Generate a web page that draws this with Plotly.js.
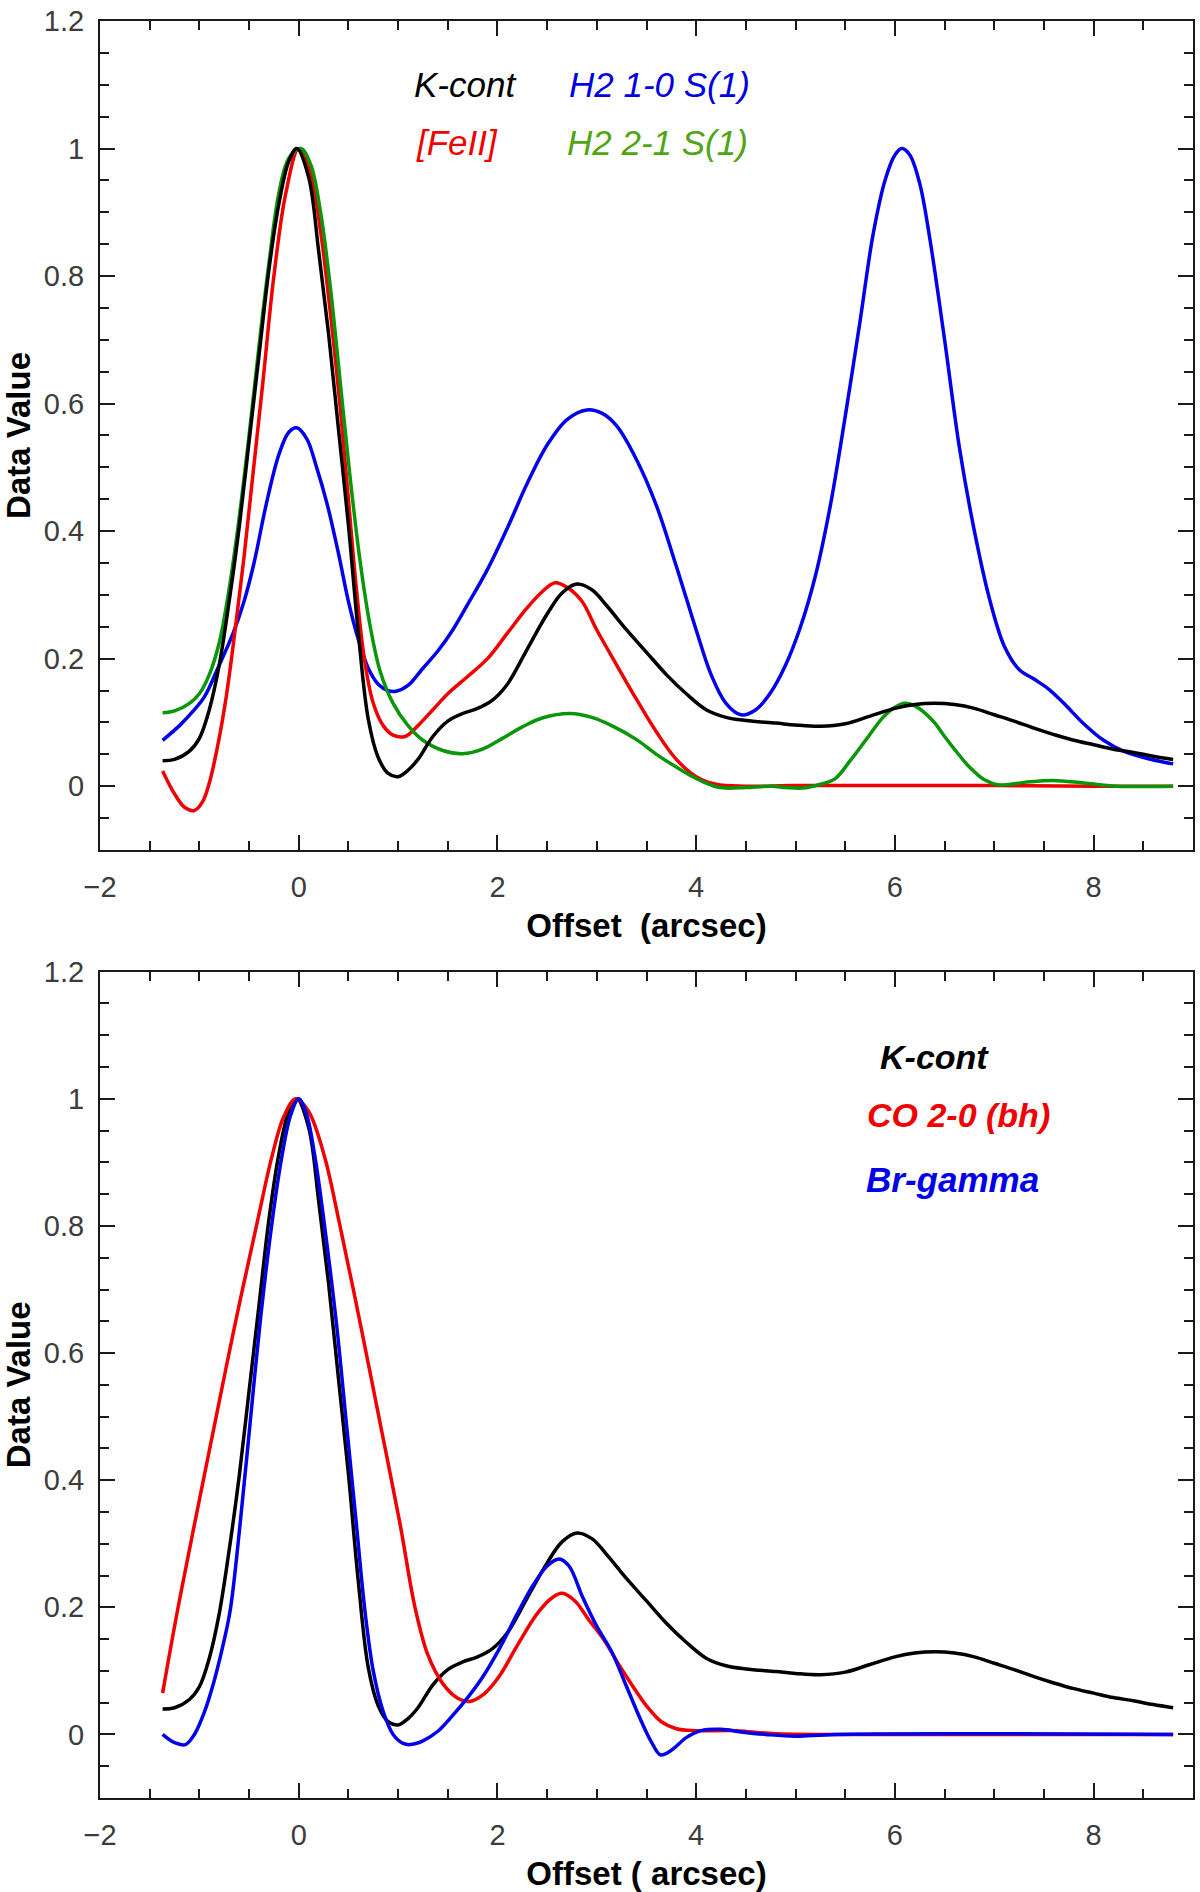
<!DOCTYPE html>
<html>
<head>
<meta charset="utf-8">
<script src="https://cdn.plot.ly/plotly-3.0.1.min.js"></script>
<style>
  body { margin: 0; background: white; }
  #chart { width: 1200px; height: 1892px; }
</style>
</head>
<body>
<div id="chart"></div>
<script>
// K-cont profile (same curve in both panels)
var kcontX = [-1.37, -1.25, -1.1, -1.0, -0.9, -0.8, -0.7, -0.6, -0.5, -0.4, -0.3, -0.2, -0.1, -0.02,
  0.1, 0.2, 0.3, 0.4, 0.5, 0.6, 0.7, 0.8, 0.9, 1.0, 1.1, 1.2, 1.35, 1.5, 1.65, 1.8, 1.95, 2.1, 2.3, 2.5, 2.65,
  2.8, 2.95, 3.1, 3.3, 3.5, 3.7, 3.9, 4.1, 4.3, 4.5, 4.8, 5.0, 5.25, 5.5, 5.75, 6.0, 6.2, 6.4, 6.6, 6.8,
  7.0, 7.2, 7.4, 7.6, 7.8, 8.0, 8.2, 8.4, 8.6, 8.8];
var kcontY = [0.04, 0.042, 0.055, 0.075, 0.12, 0.19, 0.29, 0.405, 0.54, 0.675, 0.81, 0.913, 0.98, 1.0,
  0.955, 0.84, 0.71, 0.56, 0.41, 0.24, 0.105, 0.045, 0.02, 0.015, 0.025, 0.042, 0.078, 0.102, 0.114, 0.122, 0.135, 0.16, 0.215, 0.27, 0.303,
  0.317, 0.308, 0.283, 0.245, 0.21, 0.175, 0.145, 0.12, 0.108, 0.103, 0.099, 0.096, 0.094, 0.098, 0.11, 0.122, 0.128, 0.13, 0.128, 0.122,
  0.112, 0.102, 0.091, 0.081, 0.072, 0.065, 0.058, 0.053, 0.047, 0.042];

// top panel
var feiiX = [-1.37, -1.25, -1.15, -1.05, -0.97, -0.9, -0.82, -0.73, -0.64, -0.55, -0.46, -0.36, -0.25, -0.13, 0.0,
  0.12, 0.22, 0.32, 0.42, 0.5, 0.58, 0.66, 0.75, 0.85, 0.95, 1.07, 1.2, 1.35, 1.5, 1.7, 1.9, 2.1, 2.3, 2.45, 2.58,
  2.7, 2.85, 3.0, 3.2, 3.4, 3.6, 3.8, 4.0, 4.2, 4.5, 5.0, 6.0, 7.0, 8.0, 8.8];
var feiiY = [0.024, -0.012, -0.033, -0.038, -0.025, 0.005, 0.06, 0.14, 0.245, 0.36, 0.49, 0.635, 0.8, 0.93, 1.0,
  0.96, 0.87, 0.74, 0.59, 0.45, 0.31, 0.2, 0.13, 0.095, 0.08, 0.078, 0.095, 0.12, 0.145, 0.172, 0.2, 0.24, 0.28, 0.305, 0.319,
  0.312, 0.29, 0.245, 0.19, 0.136, 0.085, 0.042, 0.015, 0.003, 0.0, 0.001, 0.001, 0.001, 0.0, 0.0];

var h2aX = [-1.37, -1.2, -1.05, -0.95, -0.8, -0.66, -0.55, -0.45, -0.33, -0.2, -0.1, -0.02, 0.08, 0.18, 0.29, 0.4,
  0.5, 0.6, 0.7, 0.8, 0.9, 0.98, 1.1, 1.25, 1.4, 1.55, 1.7, 1.9, 2.1, 2.3, 2.5, 2.7, 2.9, 3.05, 3.2, 3.4, 3.6,
  3.8, 4.0, 4.15, 4.3, 4.45, 4.6, 4.75, 4.9, 5.05, 5.2, 5.35, 5.5, 5.65, 5.78, 5.9, 6.0, 6.07, 6.15, 6.25,
  6.35, 6.5, 6.65, 6.8, 6.95, 7.1, 7.25, 7.4, 7.55, 7.7, 7.9, 8.1, 8.3, 8.55, 8.8];
var h2aY = [0.072, 0.095, 0.12, 0.14, 0.19, 0.24, 0.29, 0.35, 0.44, 0.52, 0.555, 0.562, 0.545, 0.5, 0.44, 0.365,
  0.29, 0.23, 0.185, 0.16, 0.15, 0.149, 0.158, 0.185, 0.212, 0.245, 0.285, 0.34, 0.405, 0.475, 0.535, 0.575, 0.59, 0.585, 0.565, 0.512, 0.44,
  0.345, 0.245, 0.175, 0.13, 0.112, 0.12, 0.147, 0.19, 0.25, 0.33, 0.44, 0.58, 0.73, 0.865, 0.95, 0.99, 1.0, 0.99, 0.945,
  0.86, 0.7, 0.53, 0.4, 0.295, 0.22, 0.183, 0.168, 0.152, 0.13, 0.098, 0.072, 0.055, 0.043, 0.035];

var h2bX = [-1.37, -1.25, -1.1, -1.0, -0.9, -0.8, -0.7, -0.6, -0.5, -0.4, -0.3, -0.2, -0.1, 0.02, 0.12, 0.22,
  0.32, 0.42, 0.52, 0.62, 0.72, 0.82, 0.95, 1.1, 1.25, 1.45, 1.65, 1.85, 2.05, 2.25, 2.45, 2.73, 2.95, 3.15,
  3.4, 3.6, 3.8, 4.0, 4.18, 4.3, 4.5, 4.76, 4.9, 5.07, 5.25, 5.4, 5.55, 5.71, 5.88, 6.0, 6.1, 6.2, 6.38,
  6.5, 6.62, 6.75, 6.9, 7.05, 7.3, 7.59, 7.9, 8.23, 8.8];
var h2bY = [0.115, 0.118, 0.13, 0.145, 0.175, 0.225, 0.31, 0.42, 0.55, 0.69, 0.82, 0.93, 0.985, 1.0, 0.975, 0.9,
  0.78, 0.63, 0.48, 0.35, 0.25, 0.18, 0.13, 0.095, 0.072, 0.056, 0.051, 0.058, 0.075, 0.093, 0.107, 0.114, 0.108, 0.095,
  0.073, 0.05, 0.03, 0.012, 0.0, -0.003, -0.002, 0.0, -0.002, -0.003, 0.003, 0.012, 0.04, 0.073, 0.108, 0.124, 0.13, 0.126, 0.103,
  0.078, 0.054, 0.03, 0.01, 0.002, 0.006, 0.009, 0.005, 0.0, 0.0];

// bottom panel
var coX = [-1.37, -1.22, -1.05, -0.85, -0.64, -0.42, -0.27, -0.15, -0.03, 0.1, 0.26, 0.41, 0.62, 0.82, 1.02,
  1.17, 1.3, 1.45, 1.6, 1.72, 1.86, 2.02, 2.2, 2.4, 2.55, 2.65, 2.78, 2.92, 3.08, 3.22, 3.37, 3.5, 3.65,
  3.8, 4.0, 4.4, 4.8, 5.5, 8.8];
var coY = [0.065, 0.195, 0.33, 0.485, 0.646, 0.804, 0.909, 0.972, 1.0, 0.98, 0.909, 0.804, 0.646, 0.489, 0.331,
  0.2, 0.125, 0.08, 0.057, 0.052, 0.063, 0.092, 0.14, 0.19, 0.215, 0.222, 0.21, 0.18, 0.147, 0.11, 0.074, 0.045, 0.02,
  0.009, 0.006, 0.006, 0.001, 0.0, 0.0];

var brgX = [-1.37, -1.25, -1.14, -1.05, -0.95, -0.85, -0.77, -0.69, -0.59, -0.49, -0.39, -0.27, -0.17, -0.08, 0.0,
  0.08, 0.163, 0.257, 0.38, 0.48, 0.58, 0.666, 0.75, 0.85, 0.95, 1.05, 1.12, 1.25, 1.4, 1.55, 1.7, 1.85, 2.02,
  2.2, 2.36, 2.5, 2.62, 2.72, 2.86, 3.0, 3.15, 3.3, 3.45, 3.55, 3.64, 3.75, 3.9, 4.05, 4.25, 4.45, 4.7, 5.0,
  5.4, 8.8];
var brgY = [0.0, -0.013, -0.016, 0.0, 0.035, 0.085, 0.135, 0.195, 0.331, 0.489, 0.646, 0.804, 0.909, 0.975, 1.0,
  0.975, 0.909, 0.804, 0.646, 0.489, 0.331, 0.195, 0.1, 0.036, 0.0, -0.014, -0.016, -0.01, 0.005, 0.03, 0.058, 0.09, 0.135,
  0.19, 0.235, 0.265, 0.276, 0.265, 0.215, 0.17, 0.13, 0.075, 0.02, -0.012, -0.032, -0.025, -0.005, 0.006, 0.008, 0.004, 0.0, -0.003,
  0.0, 0.0];

function makeLine(x, y, color, xa, ya)
{
  return {
    x: x,
    y: y,
    xaxis: xa,
    yaxis: ya,
    type: 'scatter',
    mode: 'lines',
    line: { color: color, width: 3.5, shape: 'spline', smoothing: 1 },
    hoverinfo: 'skip'
  };
}

var data = [
  makeLine(h2aX, h2aY, 'rgb(0,0,235)', 'x', 'y'),
  makeLine(feiiX, feiiY, 'rgb(240,0,0)', 'x', 'y'),
  makeLine(h2bX, h2bY, 'rgb(10,150,10)', 'x', 'y'),
  makeLine(kcontX, kcontY, 'black', 'x', 'y'),
  makeLine(kcontX, kcontY, 'black', 'x2', 'y2'),
  makeLine(coX, coY, 'rgb(240,0,0)', 'x2', 'y2'),
  makeLine(brgX, brgY, 'rgb(0,0,235)', 'x2', 'y2')
];

var font = 'Arial, "Liberation Sans", sans-serif';

function xAxis(anchor, titleText)
{
  return {
    anchor: anchor,
    domain: [0, 1],
    range: [-2, 9],
    dtick: 2,
    tick0: 0,
    ticks: 'inside',
    ticklen: 15,
    tickwidth: 2,
    tickcolor: '#1a1a1a',
    minor: { dtick: 0.5, ticks: 'inside', ticklen: 9, tickwidth: 2, tickcolor: '#1a1a1a' },
    showline: true,
    linecolor: '#1a1a1a',
    linewidth: 2,
    mirror: 'ticks',
    showgrid: false,
    zeroline: false,
    ticklabelstandoff: 10,
    tickfont: { family: font, size: 29, color: '#3c3c3c' },
    title: { text: titleText, font: { family: font, size: 33, color: 'black', weight: 'bold' }, standoff: 12 }
  };
}

function yAxis(anchor, dom)
{
  return {
    anchor: anchor,
    domain: dom,
    range: [-0.1, 1.2],
    dtick: 0.2,
    tick0: 0,
    ticks: 'inside',
    ticklen: 15,
    tickwidth: 2,
    tickcolor: '#1a1a1a',
    minor: { dtick: 0.05, ticks: 'inside', ticklen: 9, tickwidth: 2, tickcolor: '#1a1a1a' },
    showline: true,
    linecolor: '#1a1a1a',
    linewidth: 2,
    mirror: 'ticks',
    showgrid: false,
    zeroline: false,
    ticklabelstandoff: 8,
    tickfont: { family: font, size: 29, color: '#3c3c3c' },
    title: { text: 'Data Value', font: { family: font, size: 33, color: 'black', weight: 'bold' }, standoff: 10 }
  };
}

function label(text, x, y, color, xr, yr, size)
{
  return {
    text: text,
    x: x,
    y: y,
    xref: xr,
    yref: yr,
    xanchor: 'left',
    yanchor: 'middle',
    showarrow: false,
    font: { family: font, size: size, color: color }
  };
}

var layout = {
  width: 1200,
  height: 1892,
  margin: { l: 100, r: 7, t: 21, b: 94 },
  paper_bgcolor: 'white',
  plot_bgcolor: 'white',
  showlegend: false,
  xaxis: xAxis('y', 'Offset&nbsp; (arcsec)'),
  yaxis: yAxis('x', [0.5335, 1]),
  xaxis2: xAxis('y2', 'Offset ( arcsec)'),
  yaxis2: yAxis('x2', [0, 0.465]),
  annotations: [
    label('<i>K-cont</i>', 1.14, 1.10, 'black', 'x', 'y', 35),
    label('<i>[FeII]</i>', 1.16, 1.009, 'rgb(240,0,0)', 'x', 'y', 35),
    label('<i>H2 1-0 S(1)</i>', 2.70, 1.10, 'rgb(0,0,225)', 'x', 'y', 35),
    label('<i>H2 2-1 S(1)</i>', 2.68, 1.009, 'rgb(80,165,20)', 'x', 'y', 35),
    label('<b><i>K-cont</i></b>', 5.83, 1.066, 'black', 'x2', 'y2', 34),
    label('<b><i>CO 2-0 (bh)</i></b>', 5.70, 0.974, 'rgb(240,0,0)', 'x2', 'y2', 34),
    label('<b><i>Br-gamma</i></b>', 5.69, 0.873, 'rgb(0,0,235)', 'x2', 'y2', 35)
  ]
};

Plotly.newPlot('chart', data, layout, { staticPlot: true });
</script>
</body>
</html>
